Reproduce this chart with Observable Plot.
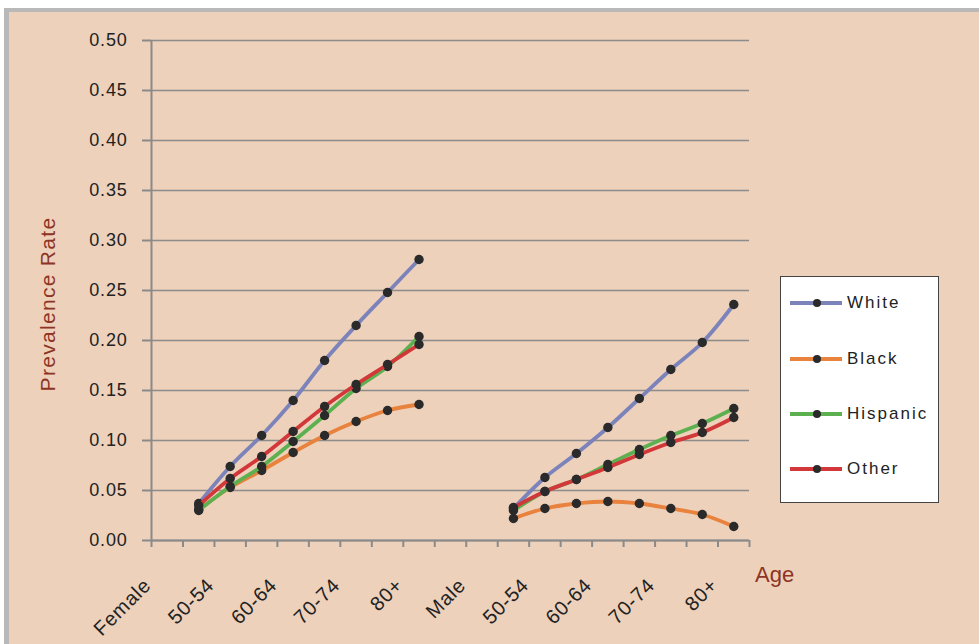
<!DOCTYPE html>
<html><head><meta charset="utf-8">
<script src="https://cdn.jsdelivr.net/npm/d3@7"></script>
<script src="https://cdn.jsdelivr.net/npm/@observablehq/plot@0.6"></script>
<style>
body{margin:0;background:#fff;font-family:"Liberation Sans",Arial,Helvetica,sans-serif;}
#wrap{position:relative;width:979px;height:644px;overflow:hidden;}
#frame{position:absolute;left:4px;top:8px;width:975px;height:636px;box-sizing:border-box;background:#EDD1BB;border-left:5px solid #B9B9B9;border-top:4px solid #B9B9B9;}
#chart{position:absolute;left:0;top:0;}
#ylab{position:absolute;left:47px;top:304px;transform:translate(-50%,-50%) rotate(-90deg);white-space:nowrap;font-size:21px;letter-spacing:1.3px;color:#8E3424;line-height:1;}
#xlab{position:absolute;left:755px;top:564px;font-size:22px;color:#8E3424;line-height:1;}
#legend{position:absolute;left:780px;top:276px;width:159px;height:227px;box-sizing:border-box;background:#fff;border:1.5px solid #444;}
.li{position:absolute;left:0;height:20px;width:157px;}
.li svg{position:absolute;left:8px;top:0;}
.li span{position:absolute;left:66px;top:0px;font-size:17px;letter-spacing:2px;color:#222;line-height:19px;}
</style>
</head><body>
<div id="wrap">
  <div id="frame"></div>
  <div id="chart"></div>
  <div id="ylab">Prevalence Rate</div>
  <div id="xlab">Age</div>
  <div id="legend"></div>
</div>
<script>
// Category axis (19 slots): labels shown every other slot
const categories = ["Female","","50-54","","60-64","","70-74","","80+","","Male","","50-54","","60-64","","70-74","","80+"];
const seriesNames = ["White","Black","Hispanic","Other"];
const seriesColors = ["#7B83BA","#E8823C","#5DB04F","#D2383A"];
const white    = [null,0.037,0.074,0.105,0.140,0.180,0.215,0.248,0.281,null,null,0.032,0.063,0.087,0.113,0.142,0.171,0.198,0.236];
const black    = [null,0.031,0.053,0.070,0.088,0.105,0.119,0.130,0.136,null,null,0.022,0.032,0.037,0.039,0.037,0.032,0.026,0.014];
const hispanic = [null,0.030,0.054,0.074,0.099,0.125,0.152,0.174,0.204,null,null,0.030,0.049,0.061,0.076,0.091,0.105,0.117,0.132];
const other    = [null,0.035,0.062,0.084,0.109,0.134,0.156,0.176,0.196,null,null,0.033,0.049,0.061,0.073,0.086,0.098,0.108,0.123];
const yTicks = [0,0.05,0.10,0.15,0.20,0.25,0.30,0.35,0.40,0.45,0.50];

const seriesValues = [white, black, hispanic, other];
const labelRows = categories.map((label,i)=>({i,label})).filter(d=>d.label!=="");
const boundaries = d3.range(categories.length+1).map(i=>i-0.5);

const seriesMarks = [];
seriesValues.forEach((vals,k)=>{
  const rows = vals.map((v,i)=>({i, v}));
  seriesMarks.push(Plot.line(rows,{x:"i",y:"v",stroke:seriesColors[k],strokeWidth:3.8,curve:"catmull-rom"}));
  seriesMarks.push(Plot.dot(rows,{x:"i",y:"v",r:4.7,fill:"#2A2A2A",stroke:"none"}));
});

const chart = Plot.plot({
  width:979, height:644,
  marginLeft:151, marginRight:230, marginTop:40, marginBottom:104,
  style:{background:"transparent",fontFamily:"'Liberation Sans',Arial,Helvetica,sans-serif"},
  x:{type:"linear",domain:[-0.5,categories.length-0.5],axis:null},
  y:{domain:[0,0.5],axis:null},
  marks:[
    Plot.gridY(yTicks,{stroke:"#8C8C8C",strokeOpacity:1,strokeWidth:1.5}),
    Plot.axisY(yTicks,{tickSize:9,tickPadding:15,tickFormat:d3.format(".2f"),fontSize:18,stroke:"#8A8A8A",strokeWidth:2,fill:"#222",label:null}),
    Plot.axisX(boundaries,{tickSize:7,tickFormat:()=>"",stroke:"#8A8A8A",strokeWidth:2,label:null}),
    Plot.ruleY([0],{stroke:"#8A8A8A",strokeWidth:2}),
    Plot.ruleX([-0.5],{stroke:"#8A8A8A",strokeWidth:2}),
    Plot.text(labelRows,{x:"i",text:"label",frameAnchor:"bottom",rotate:-45,textAnchor:"end",dx:-15,dy:46,fontSize:20,fill:"#222"}),
    ...seriesMarks
  ]
});
document.getElementById("chart").appendChild(chart);
chart.querySelectorAll("g[aria-label='y-axis tick label'] text").forEach(t=>t.setAttribute("letter-spacing","0.8"));
chart.querySelectorAll("g[aria-label='text'] text").forEach(t=>t.setAttribute("letter-spacing","0.8"));

const legend = document.getElementById("legend");
const rowTops = [16,72,127,182];
seriesNames.forEach((name,k)=>{
  const d = document.createElement("div");
  d.className="li"; d.style.top = rowTops[k]+"px";
  d.innerHTML = `<svg width="54" height="20"><line x1="1" x2="53" y1="10" y2="10" stroke="${seriesColors[k]}" stroke-width="4"/><circle cx="28" cy="10" r="4" fill="#2A2A2A"/></svg><span>${name}</span>`;
  legend.appendChild(d);
});
</script>
</body></html>
